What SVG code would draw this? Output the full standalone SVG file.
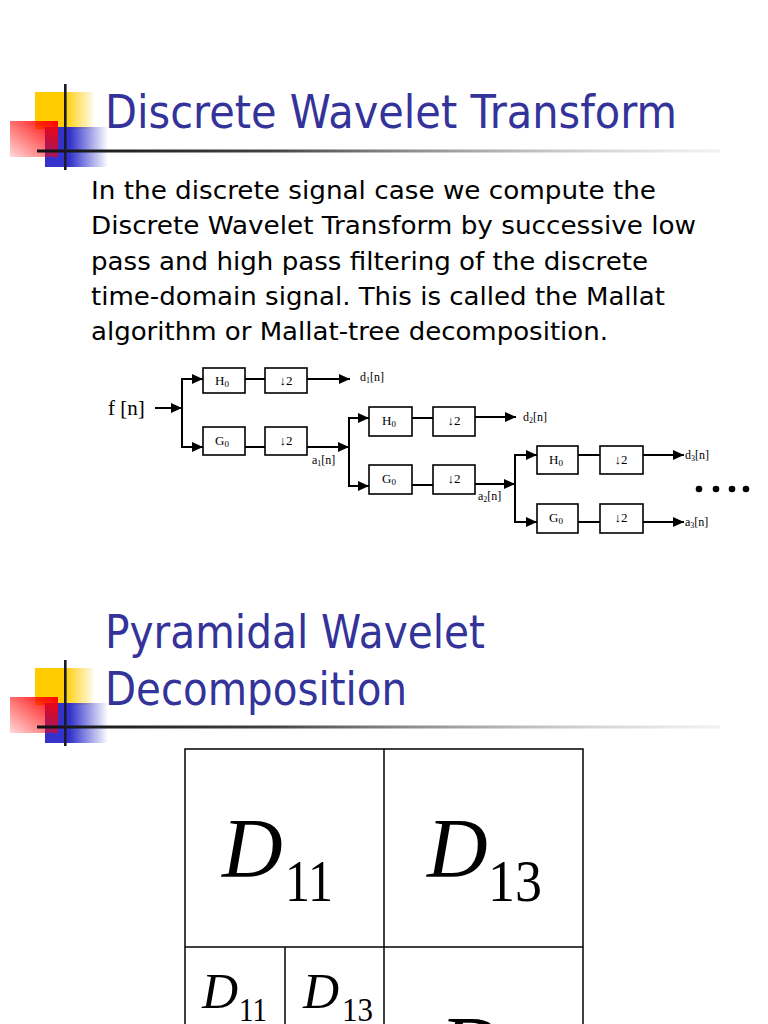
<svg xmlns="http://www.w3.org/2000/svg" width="768" height="1024" viewBox="0 0 768 1024">
<defs>
<style>
.title{font-family:"DejaVu Sans","Liberation Sans",sans-serif;font-size:46px;fill:#333399}
.body{font-family:"DejaVu Sans","Liberation Sans",sans-serif;font-size:24.5px;fill:#000}
.box{fill:#fff;stroke:#000;stroke-width:1.6}
.bl{font-family:"Liberation Serif","Times New Roman",serif;font-size:13px;fill:#000;text-anchor:middle}
.lab{font-family:"Liberation Serif","Times New Roman",serif;font-size:12px;fill:#000}
.wire{fill:none;stroke:#000;stroke-width:2}
.arr{fill:none;stroke:#000;stroke-width:2;marker-end:url(#ah)}
.grid{fill:none;stroke:#000;stroke-width:1.5}
.math{font-family:"Liberation Serif","Times New Roman",serif;fill:#000}
</style>
<marker id="ah" markerUnits="userSpaceOnUse" markerWidth="12" markerHeight="10" refX="11" refY="5" orient="auto">
<path d="M0,0 L11,5 L0,10 Z" fill="#000"/>
</marker>
<linearGradient id="gy" x1="0" y1="0" x2="1" y2="0"><stop offset="0" stop-color="#FFCC00"/><stop offset="0.5" stop-color="#FFCC00"/><stop offset="1" stop-color="#FFCC00" stop-opacity="0.1"/></linearGradient>
<linearGradient id="gr" x1="1" y1="0" x2="0" y2="1"><stop offset="0" stop-color="#FF0000"/><stop offset="1" stop-color="#FF0000" stop-opacity="0.15"/></linearGradient>
<linearGradient id="gb" x1="0" y1="0" x2="1" y2="0"><stop offset="0" stop-color="#3333CC"/><stop offset="0.4" stop-color="#3333CC"/><stop offset="1" stop-color="#3333CC" stop-opacity="0.03"/></linearGradient>
<linearGradient id="gl" x1="0" y1="0" x2="1" y2="0"><stop offset="0" stop-color="#111"/><stop offset="0.35" stop-color="#444"/><stop offset="1" stop-color="#bbb" stop-opacity="0.2"/></linearGradient>
<g id="logo">
<rect x="35" y="92" width="58" height="37" fill="url(#gy)"/>
<rect x="45" y="127" width="62" height="40" fill="url(#gb)"/>
<rect x="10" y="121" width="48" height="36" fill="url(#gr)"/>
<rect x="37" y="149.5" width="683" height="3" fill="url(#gl)"/>
<rect x="64" y="84" width="2.6" height="86" fill="#1a1a2e"/>
</g>
</defs>
<rect width="768" height="1024" fill="#fff"/>

<g id="slide1-header">
<use href="#logo"/>
<text class="title" x="105" y="128" textLength="572" lengthAdjust="spacingAndGlyphs">Discrete Wavelet Transform</text>
</g>

<g id="slide1-body">
<text class="body" x="91" y="199" textLength="565" lengthAdjust="spacingAndGlyphs">In the discrete signal case we compute the</text>
<text class="body" x="91" y="234" textLength="605" lengthAdjust="spacingAndGlyphs">Discrete Wavelet Transform by successive low</text>
<text class="body" x="91" y="270" textLength="557" lengthAdjust="spacingAndGlyphs">pass and high pass filtering of the discrete</text>
<text class="body" x="91" y="305" textLength="574" lengthAdjust="spacingAndGlyphs">time-domain signal. This is called the Mallat</text>
<text class="body" x="91" y="340" textLength="517" lengthAdjust="spacingAndGlyphs">algorithm or Mallat-tree decomposition.</text>
</g>

<g id="connectors">
<line class="arr" x1="155" y1="408" x2="182" y2="408"/>
<line class="wire" x1="182" y1="378" x2="182" y2="448"/>
<line class="arr" x1="182" y1="379" x2="203" y2="379"/>
<line class="arr" x1="182" y1="447" x2="203" y2="447"/>
<line class="wire" x1="245" y1="379" x2="265" y2="379"/>
<line class="wire" x1="245" y1="447" x2="265" y2="447"/>
<line class="arr" x1="307" y1="379" x2="350" y2="379"/>
<line class="arr" x1="307" y1="447" x2="349" y2="447"/>
<line class="wire" x1="349" y1="417" x2="349" y2="487"/>
<line class="arr" x1="349" y1="418" x2="369" y2="418"/>
<line class="arr" x1="349" y1="486" x2="369" y2="486"/>
<line class="wire" x1="412" y1="418" x2="433" y2="418"/>
<line class="wire" x1="412" y1="485" x2="433" y2="485"/>
<line class="arr" x1="475" y1="417" x2="516" y2="417"/>
<line class="arr" x1="475" y1="484" x2="515" y2="484"/>
<line class="wire" x1="515" y1="454" x2="515" y2="523"/>
<line class="arr" x1="515" y1="455" x2="537" y2="455"/>
<line class="arr" x1="515" y1="522" x2="537" y2="522"/>
<line class="wire" x1="578" y1="455" x2="600" y2="455"/>
<line class="wire" x1="578" y1="522" x2="600" y2="522"/>
<line class="arr" x1="643" y1="455" x2="684" y2="455"/>
<line class="arr" x1="643" y1="522" x2="684" y2="522"/>
</g>

<g id="input"><text class="math" x="108" y="415" font-size="21">f [n]</text></g>

<g id="s1-H0"><rect class="box" x="203" y="368" width="42" height="25"/><text class="bl" x="222" y="385">H<tspan font-size="9" dy="2">0</tspan></text></g>
<g id="s1-D1"><rect class="box" x="265" y="368" width="42" height="25"/><text class="bl" x="286" y="385">↓2</text></g>
<g id="s1-G0"><rect class="box" x="203" y="427" width="42" height="28"/><text class="bl" x="222" y="445">G<tspan font-size="9" dy="2">0</tspan></text></g>
<g id="s1-D2"><rect class="box" x="265" y="427" width="42" height="28"/><text class="bl" x="286" y="445">↓2</text></g>
<g id="l-d1"><text class="lab" x="360" y="381">d<tspan font-size="8" dy="2">1</tspan><tspan dy="-2">[n]</tspan></text></g>
<g id="l-a1"><text class="lab" x="312" y="464">a<tspan font-size="8" dy="2">1</tspan><tspan dy="-2">[n]</tspan></text></g>

<g id="s2-H0"><rect class="box" x="369" y="407" width="43" height="29"/><text class="bl" x="389" y="425">H<tspan font-size="9" dy="2">0</tspan></text></g>
<g id="s2-D1"><rect class="box" x="433" y="407" width="42" height="29"/><text class="bl" x="454" y="425">↓2</text></g>
<g id="s2-G0"><rect class="box" x="369" y="465" width="43" height="29"/><text class="bl" x="389" y="483">G<tspan font-size="9" dy="2">0</tspan></text></g>
<g id="s2-D2"><rect class="box" x="433" y="465" width="42" height="29"/><text class="bl" x="454" y="483">↓2</text></g>
<g id="l-d2"><text class="lab" x="523" y="421">d<tspan font-size="8" dy="2">2</tspan><tspan dy="-2">[n]</tspan></text></g>
<g id="l-a2"><text class="lab" x="478" y="500">a<tspan font-size="8" dy="2">2</tspan><tspan dy="-2">[n]</tspan></text></g>

<g id="s3-H0"><rect class="box" x="537" y="446" width="41" height="28"/><text class="bl" x="556" y="464">H<tspan font-size="9" dy="2">0</tspan></text></g>
<g id="s3-D1"><rect class="box" x="600" y="446" width="43" height="28"/><text class="bl" x="621" y="464">↓2</text></g>
<g id="s3-G0"><rect class="box" x="537" y="504" width="41" height="29"/><text class="bl" x="556" y="522">G<tspan font-size="9" dy="2">0</tspan></text></g>
<g id="s3-D2"><rect class="box" x="600" y="504" width="43" height="29"/><text class="bl" x="621" y="522">↓2</text></g>
<g id="l-d3"><text class="lab" x="685" y="459">d<tspan font-size="8" dy="2">3</tspan><tspan dy="-2">[n]</tspan></text></g>
<g id="l-a3"><text class="lab" x="685" y="526">a<tspan font-size="8" dy="2">3</tspan><tspan dy="-2">[n]</tspan></text></g>

<g id="ellipsis" fill="#000">
<circle cx="699" cy="489" r="3.3"/><circle cx="716" cy="489" r="3.3"/><circle cx="732" cy="489" r="3.3"/><circle cx="746" cy="489" r="3.3"/>
</g>

<g id="slide2-header">
<use href="#logo" transform="translate(0,576)"/>
<text class="title" x="105" y="648" textLength="380" lengthAdjust="spacingAndGlyphs">Pyramidal Wavelet</text>
<text class="title" x="105" y="705" textLength="302" lengthAdjust="spacingAndGlyphs">Decomposition</text>
</g>

<g id="pyramid-grid">
<rect class="grid" x="185" y="749" width="398" height="320"/>
<line class="grid" x1="384" y1="749" x2="384" y2="1024"/>
<line class="grid" x1="185" y1="947" x2="583" y2="947"/>
<line class="grid" x1="285" y1="947" x2="285" y2="1024"/>
</g>

<g id="cell-D11"><text class="math" x="222" y="877" font-size="84" font-style="italic">D</text><text class="math" x="285" y="901" font-size="60" textLength="48" lengthAdjust="spacingAndGlyphs">11</text></g>
<g id="cell-D13"><text class="math" x="427" y="877" font-size="84" font-style="italic">D</text><text class="math" x="488" y="901" font-size="60" textLength="54" lengthAdjust="spacingAndGlyphs">13</text></g>
<g id="cell-small-D11"><text class="math" x="202" y="1008" font-size="50" font-style="italic">D</text><text class="math" x="239" y="1021" font-size="34" textLength="28" lengthAdjust="spacingAndGlyphs">11</text></g>
<g id="cell-small-D13"><text class="math" x="303" y="1008" font-size="50" font-style="italic">D</text><text class="math" x="342" y="1021" font-size="34" textLength="31" lengthAdjust="spacingAndGlyphs">13</text></g>
<g id="cell-D-bottom"><text class="math" x="440" y="1075" font-size="84" font-style="italic">D</text></g>
</svg>
